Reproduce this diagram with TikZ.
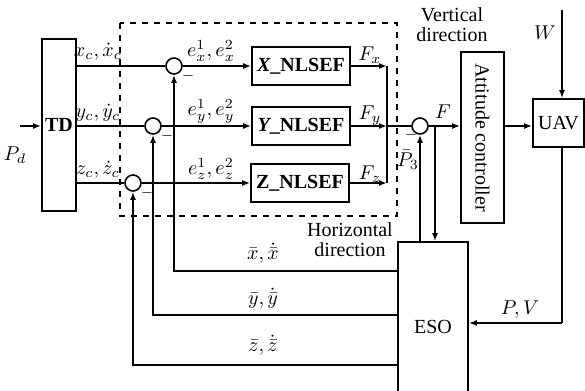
\documentclass[tikz,border=0pt]{standalone}
\usepackage{fontspec}
\setmainfont{Liberation Serif}
\usetikzlibrary{positioning,arrows.meta}

\begin{document}
\begin{tikzpicture}[x=0.5pt,y=-0.5pt,line width=0.8pt,
    block/.style={draw,inner sep=0pt,font=\bfseries},
    plainblock/.style={draw,inner sep=0pt},
    sumnode/.style={draw,circle,minimum size=8pt,inner sep=0pt},
    sgn/.style={inner sep=0pt,font=\scriptsize},
    feed/.style={-{Latex[length=4pt,width=3pt]}}]
  \useasboundingbox (0,0) rectangle (585,391);
  \clip (0,0) rectangle (585,391);
  % Controller frame
  \draw[dashed,line width=0.6pt] (120,23) rectangle (397,216);
  % Blocks
  \node[block,minimum width=17pt,minimum height=86pt] (td) at (59,125) {TD};
  \node[sumnode] (sx) at (174,66) {};
  \node[sumnode] (sy) at (153,126) {};
  \node[sumnode] (sz) at (133,183) {};
  \node[block,minimum width=49pt,minimum height=19pt] (nx) at (301,66) {{\itshape X}\_NLSEF};
  \node[block,minimum width=49pt,minimum height=19pt] (ny) at (301,126) {{\itshape Y}\_NLSEF};
  \node[block,minimum width=49pt,minimum height=19pt] (nz) at (300,183) {Z\_NLSEF};
  \coordinate (jn) at (387,126);
  \node[sumnode] (s3) at (420,126) {};
  \node[plainblock,rotate=-90,minimum width=85.5pt,minimum height=21.5pt] (att) at (482.5,137.5) {Attitude controller};
  \node[plainblock,minimum width=25.5pt,minimum height=24pt] (uav) at (558.5,123) {UAV};
  \node[plainblock,minimum width=35pt,minimum height=85pt] (eso) at (433,327) {ESO};
  % Helper coordinates
  \coordinate (pin) at (20,126);
  \coordinate (win) at (562,10);
  \coordinate (pv) at (562,323);
  \coordinate (ftap) at (435,126);
  \coordinate (fx) at (0,271);
  \coordinate (fy) at (0,315);
  \coordinate (fz) at (0,365);
  % Forward path
  \draw[feed] (pin) -- (td.west |- pin);
  \draw (td.east |- sx) -- (sx.west);
  \draw (td.east |- sy) -- (sy.west);
  \draw (td.east |- sz) -- (sz.west);
  \draw[feed] (sx.east) -- (nx.west);
  \draw[feed] (sy.east) -- (ny.west);
  \draw[feed] (sz.east) -- (nz.west);
  \draw[feed] (nx.east) -- (nx.east -| jn);
  \draw[feed] (ny.east) -- (jn);
  \draw[feed] (nz.east) -- (nz.east -| jn);
  \draw (nx.east -| jn) -- (nz.east -| jn);
  \draw (jn) -- (s3.west);
  \draw[feed] (s3.east) -- (att.south |- s3);
  \draw[feed] (att.north |- s3) -- (uav.west |- s3);
  \draw[feed] (win) -- (uav.north -| win);
  % Feedback paths
  \draw (uav.south -| pv) -- (pv);
  \draw[feed] (pv) -- (eso.east |- pv);
  \draw[feed] (ftap) -- (eso.north -| ftap);
  \draw[feed] (eso.north -| s3) -- (s3.south);
  \draw[feed] (eso.west |- fx) -| (sx.south);
  \draw[feed] (eso.west |- fy) -| (sy.south);
  \draw[feed] (eso.west |- fz) -| (sz.south);
  % Labels
  \node (lpd) at (15,155) {$P_d$};
  \node (lxc) at (98,52) {$x_c,\dot{x}_c$};
  \node (lyc) at (98,113) {$y_c,\dot{y}_c$};
  \node (lzc) at (98,170) {$z_c,\dot{z}_c$};
  \node (lex) at (211,51) {$e_x^1,e_x^2$};
  \node (ley) at (211,111) {$e_y^1,e_y^2$};
  \node (lez) at (211,169) {$e_z^1,e_z^2$};
  \node (lfx) at (370,55) {$F_x$};
  \node (lfy) at (370,116) {$F_y$};
  \node (lfz) at (370,174) {$F_z$};
  \node[sgn] (mx) at (188,76) {$-$};
  \node[sgn] (my) at (167,136) {$-$};
  \node[sgn] (mz) at (147,193) {$-$};
  \node[sgn] (m3) at (411,135) {$-$};
  \node (lf) at (443,112) {$F$};
  \node (lp3) at (408,160) {$\bar{P}_3$};
  \node[align=center,inner sep=0pt] (lvert) at (452,25) {Vertical\\[-2pt]direction};
  \node[align=center,inner sep=0pt] (lhor) at (350,240) {Horizontal\\[-2pt]direction};
  \node (lw) at (545,33) {$W$};
  \node (lpv) at (520,310) {$P,V$};
  \node[inner sep=0pt] (lbx) at (263,253) {$\bar{x},\dot{\bar{x}}$};
  \node[inner sep=0pt] (lby) at (263,298) {$\bar{y},\dot{\bar{y}}$};
  \node[inner sep=0pt] (lbz) at (263,345) {$\bar{z},\dot{\bar{z}}$};
\end{tikzpicture}
\end{document}
